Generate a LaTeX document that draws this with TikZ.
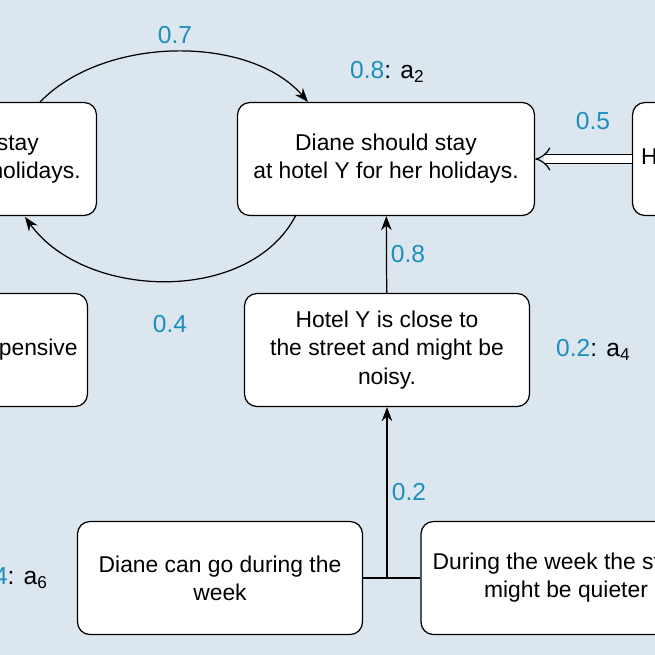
\documentclass[tikz,border=0pt]{standalone}
\usepackage{fontspec}
\setmainfont{Liberation Sans}
\usetikzlibrary{arrows.meta}
\definecolor{bgcol}{HTML}{DCE6EF}
\definecolor{wcol}{HTML}{1C8FBF}
\begin{document}
\begin{tikzpicture}[
    x=0.02cm, y=-0.02cm,
    arg/.style={rectangle, draw, rounded corners=7pt, fill=white, line width=0.7pt,
      align=center, inner sep=0pt, font=\fontsize{13}{16}\selectfont},
    weight/.style={text=wcol, font=\fontsize{14}{16}\selectfont},
    tag/.style={font=\fontsize{14}{16}\selectfont},
    arrow/.style={-{Stealth[length=8pt,width=6pt]}, line width=0.7pt}
]
\useasboundingbox (0,0) rectangle (655,655);
\clip (0,0) rectangle (655,655);
\fill[bgcol] (0,0) rectangle (655,655);

% Arguments
\node[arg, minimum width=5.94cm, minimum height=2.26cm] (stayx) at (-52,159) {Diane should stay\\at hotel X for her holidays.};
\node[arg, minimum width=5.94cm, minimum height=2.26cm] (stayy) at (386,159) {Diane should stay\\at hotel Y for her holidays.};
\node[arg, minimum width=5.94cm, minimum height=2.26cm, text width=5.6cm, align=left] (pool) at (781,159) {Hotel X has a pool.};
\node[arg, minimum width=5.7cm, minimum height=2.26cm] (expensive) at (-55,350) {Hotel X is more expensive};
\node[arg, minimum width=5.7cm, minimum height=2.26cm] (noisy) at (387,350) {Hotel Y is close to\\the street and might be\\noisy.};
\node[arg, minimum width=5.7cm, minimum height=2.26cm] (week) at (220,578) {Diane can go during the\\week};
\node[arg, minimum width=5.8cm, minimum height=2.26cm] (quiet) at (566,578) {During the week the street\\might be quieter};
\coordinate (join) at (387,578);

% Weights and tags
\node[weight] (w07) at (175,35) {0.7};
\node[weight] (w04) at (170,324) {0.4};
\node[weight] (w05) at (593,121) {0.5};
\node[weight] (w08) at (408,254) {0.8};
\node[weight] (w02) at (409,492) {0.2};
\node[tag, anchor=west] (a2) at (344,72) {\textcolor{wcol}{0.8}: a\textsubscript{2}};
\node[tag, anchor=west] (a4) at (550,350) {\textcolor{wcol}{0.2}: a\textsubscript{4}};
\node[tag, anchor=east] (a6) at (54,578) {\textcolor{wcol}{0.4}: a\textsubscript{6}};

% Connections
\draw[arrow] (40,102) .. controls (105,35) and (250,35) .. (308,102);
\draw[arrow] (296,215) .. controls (250,305) and (85,300) .. (25,217);
\draw[double, double distance=4pt, line width=0.7pt, -{Implies[length=10pt]}] (pool.west) -- (stayy.east);
\draw[arrow] (noisy) -- (stayy);
\draw[line width=0.7pt] (week.east) -- (quiet.west);
\draw[arrow] (join) -- (noisy);
\end{tikzpicture}
\end{document}
